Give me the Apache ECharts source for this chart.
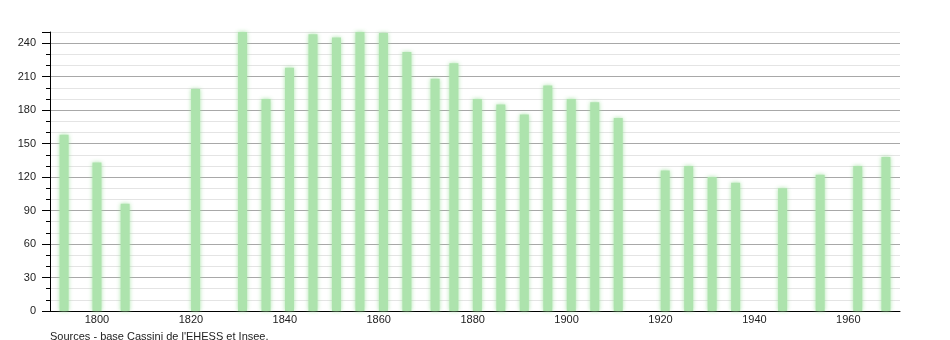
<!DOCTYPE html>
<html>
<head>
<meta charset="utf-8">
<script src="https://cdn.jsdelivr.net/npm/echarts@6/dist/echarts.min.js"></script>
<style>
html,body{margin:0;padding:0;background:#fff;}
#c{width:950px;height:340px;}
</style>
</head>
<body>
<div id="c"></div>
<script>
const years = [1793,1800,1806,1821,1831,1836,1841,1846,1851,1856,1861,1866,1872,1876,1881,1886,1891,1896,1901,1906,1911,1921,1926,1931,1936,1946,1954,1962,1968];
const population = [158,133,96,199,262,190,218,248,245,258,249,232,208,222,190,185,176,202,190,187,173,126,130,120,115,110,122,130,138];
const yTicks = [0,30,60,90,120,150,180,210,240];
const sourceText = "Sources - base Cassini de l'EHESS et Insee.";

const chart = echarts.init(document.getElementById('c'));
const font = "'Liberation Sans', Arial, sans-serif";
chart.setOption({
  animation: false,
  grid: {left: 50, right: 50, top: 32, bottom: 29},
  graphic: [{
    type: 'text', left: 50, top: 331,
    style: {text: sourceText, font: '11px ' + font, fill: '#222'}
  }],
  xAxis: {
    type: 'value', min: 1790, max: 1971, interval: 10,
    axisLine: {show: true, lineStyle: {color: '#000', width: 1}},
    axisTick: {show: false},
    splitLine: {show: false},
    axisLabel: {
      color: '#222', fontFamily: font, fontSize: 11, margin: 3,
      formatter: v => (v % 20 === 0 ? String(v) : '')
    }
  },
  yAxis: [{
    type: 'value', min: 0, max: 250, interval: 10,
    axisLine: {show: true, lineStyle: {color: '#000', width: 1}},
    axisTick: {show: true, length: 4, lineStyle: {color: '#000'}},
    splitLine: {show: true, lineStyle: {color: ['#a8a8a8', '#e4e4e4', '#e4e4e4'], width: 1}},
    axisLabel: {show: false}
  }, {
    type: 'value', min: 0, max: 250, interval: 30, position: 'left',
    axisLine: {show: false},
    axisTick: {show: true, length: 8, lineStyle: {color: '#000'}},
    splitLine: {show: false},
    axisLabel: {
      color: '#222', fontFamily: font, fontSize: 11, margin: 14,
      formatter: v => (yTicks.indexOf(v) >= 0 ? String(v) : '')
    }
  }],
  series: [{
    type: 'bar',
    yAxisIndex: 0,
    data: years.map((y, i) => [y, population[i]]),
    barWidth: 9,
    clip: true,
    itemStyle: {color: '#ade3ad', shadowBlur: 4, shadowColor: 'rgba(160,225,160,0.9)'}
  }]
});
</script>
</body>
</html>
